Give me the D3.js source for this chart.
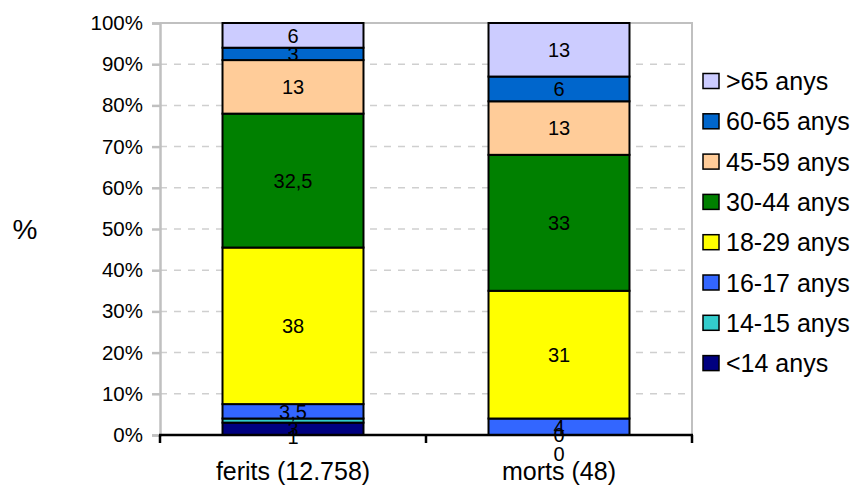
<!DOCTYPE html>
<html>
<head>
<meta charset="utf-8">
<script src="https://cdn.jsdelivr.net/npm/d3@7"></script>
<style>
  body { margin: 0; background: #fff; }
  svg { font-family: "Liberation Sans", Arial, Helvetica, sans-serif; }
</style>
</head>
<body>
<svg id="chart" width="859" height="485"></svg>
<script>
// data
const categories = ['ferits (12.758)', 'morts (48)'];
const ageGroups = ['<14 anys', '14-15 anys', '16-17 anys', '18-29 anys', '30-44 anys', '45-59 anys', '60-65 anys', '>65 anys'];
const feritsValues = [3, 1, 3.5, 38, 32.5, 13, 3, 6];
const mortsValues = [0, 0, 4, 31, 33, 13, 6, 13];
const groupColors = ['#000080', '#33cccc', '#3366ff', '#ffff00', '#008000', '#ffcc99', '#0066cc', '#ccccff'];
const yTicks = [0, 0.1, 0.2, 0.3, 0.4, 0.5, 0.6, 0.7, 0.8, 0.9, 1];

const margin = { top: 23, right: 167, bottom: 50, left: 160 };
const width = 859, height = 485;

// build table for d3.stack
const table = categories.map((c, i) => {
  const row = { cat: c };
  const vals = i === 0 ? feritsValues : mortsValues;
  ageGroups.forEach((g, j) => { row[g] = vals[j]; });
  return row;
});

const svg = d3.select('#chart');

const x = d3.scaleBand()
  .domain(categories)
  .range([margin.left, width - margin.right])
  .paddingInner(0.47)
  .paddingOuter(0.235);

const y = d3.scaleLinear()
  .domain([0, 1])
  .range([height - margin.bottom, margin.top]);

const color = d3.scaleOrdinal().domain(ageGroups).range(groupColors);

const series = d3.stack().keys(ageGroups).offset(d3.stackOffsetExpand)(table);

// gridlines
svg.append('g')
  .selectAll('line')
  .data(yTicks.filter(t => t > 0 && t < 1))
  .join('line')
  .attr('x1', margin.left)
  .attr('x2', width - margin.right)
  .attr('y1', d => y(d))
  .attr('y2', d => y(d))
  .attr('stroke', '#cfcfcf')
  .attr('stroke-width', 1.5)
  .attr('stroke-dasharray', '7,7');

// plot frame (top and right)
svg.append('path')
  .attr('d', `M${ margin.left },${ y(1) }H${ width - margin.right }V${ y(0) }`)
  .attr('fill', 'none')
  .attr('stroke', '#c0c0c0')
  .attr('stroke-width', 2);

// y axis
const yAxis = svg.append('g')
  .attr('transform', `translate(${ margin.left },0)`)
  .call(d3.axisLeft(y).tickValues(yTicks).tickFormat(d3.format('.0%')).tickSize(8).tickPadding(9));
yAxis.select('.domain').attr('stroke', '#c0c0c0').attr('stroke-width', 2.5);
yAxis.selectAll('.tick line').attr('stroke', '#c0c0c0').attr('stroke-width', 2.5);
yAxis.selectAll('.tick text')
  .attr('fill', '#000')
  .attr('font-size', 20.5)
  .attr('font-family', '"Liberation Sans", Arial, sans-serif');

// bars
const layer = svg.append('g')
  .selectAll('g')
  .data(series)
  .join('g')
  .attr('fill', d => color(d.key));

layer.selectAll('rect')
  .data(d => d)
  .join('rect')
  .attr('x', d => x(d.data.cat))
  .attr('width', x.bandwidth())
  .attr('y', d => y(d[1]))
  .attr('height', d => y(d[0]) - y(d[1]))
  .attr('stroke', '#000')
  .attr('stroke-width', 2);

// x axis (drawn over bars)
const xAxisY = y(0);
svg.append('line')
  .attr('x1', margin.left - 1)
  .attr('x2', width - margin.right + 1)
  .attr('y1', xAxisY)
  .attr('y2', xAxisY)
  .attr('stroke', '#000')
  .attr('stroke-width', 2.5);

const bounds = [margin.left, x(categories[1]) - x.step() * x.paddingInner() / 2, width - margin.right];
svg.append('g')
  .selectAll('line')
  .data(bounds)
  .join('line')
  .attr('x1', d => d)
  .attr('x2', d => d)
  .attr('y1', xAxisY)
  .attr('y2', xAxisY + 8)
  .attr('stroke', '#000')
  .attr('stroke-width', 2.5);

svg.append('g')
  .selectAll('text')
  .data(categories)
  .join('text')
  .attr('x', d => x(d) + x.bandwidth() / 2)
  .attr('y', xAxisY + 45)
  .attr('text-anchor', 'middle')
  .attr('font-size', 25)
  .text(d => d);

// value labels; Excel pushes the crowded 14-15 label below its neighbour
const labelNudge = { '14-15 anys': [16, 19] };
const fmt = v => String(v).replace('.', ',');
svg.append('g')
  .selectAll('g')
  .data(series)
  .join('g')
  .selectAll('text')
  .data(s => s.map((d, i) => ({ key: s.key, d, i })))
  .join('text')
  .attr('x', o => x(o.d.data.cat) + x.bandwidth() / 2)
  .attr('y', o => (y(o.d[0]) + y(o.d[1])) / 2 + (labelNudge[o.key] ? labelNudge[o.key][o.i] : 0))
  .attr('dy', '0.36em')
  .attr('text-anchor', 'middle')
  .attr('font-size', 20)
  .text(o => fmt(o.d.data[o.key]));

// y title
svg.append('text')
  .attr('x', 25)
  .attr('y', (y(0) + y(1)) / 2)
  .attr('dy', '0.36em')
  .attr('text-anchor', 'middle')
  .attr('font-size', 28)
  .text('%');

// legend (top group first)
const legendItems = ageGroups.slice().reverse();
const legend = svg.append('g')
  .selectAll('g')
  .data(legendItems)
  .join('g')
  .attr('transform', (d, i) => `translate(703,${ 81 + i * 40.3 })`);

legend.append('rect')
  .attr('x', 0)
  .attr('y', -7.5)
  .attr('width', 16)
  .attr('height', 15)
  .attr('fill', d => color(d))
  .attr('stroke', '#000')
  .attr('stroke-width', 1.5);

legend.append('text')
  .attr('x', 23)
  .attr('dy', '0.36em')
  .attr('font-size', 25)
  .text(d => d);
</script>
</body>
</html>
